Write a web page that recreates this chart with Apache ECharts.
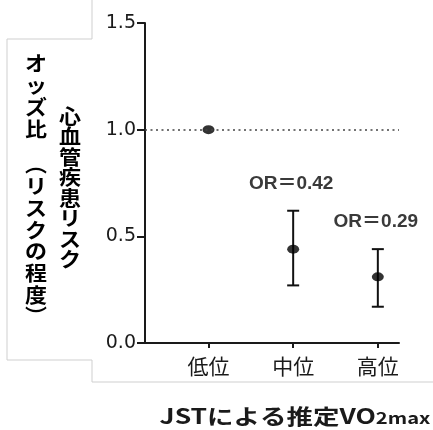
<!DOCTYPE html>
<html>
<head>
<meta charset="utf-8">
<script src="https://cdn.jsdelivr.net/npm/echarts@6/dist/echarts.min.js"></script>
<style>
html,body{margin:0;padding:0;background:#fff;}
#chart{width:433px;height:430px;}
</style>
</head>
<body>
<div id="chart"></div>
<script>
// ---- data ----
const categories = ['低位', '中位', '高位'];
const oddsRatio = [1.0, 0.44, 0.31];
const ciLower = [null, 0.27, 0.17];
const ciUpper = [null, 0.62, 0.44];
const orLabels = ['', 'OR＝0.42', 'OR＝0.29'];
const referenceLine = [1.0];
const yTicks = [0, 0.5, 1.0, 1.5];
const yTitleLine1a = 'オッズ比';
const yTitleLine1b = '︵リスクの程度︶';
const yTitleLine2 = '心血管疾患リスク';
const xTitleMain = 'JSTによる推定VO';
const xTitleSub = '2max';

// ---- build ----
const positions = categories.map((c, i) => i + 1);
const pointData = positions.map((p, i) => [p, oddsRatio[i]]);
const errData = [];
positions.forEach((p, i) => {
  if (ciLower[i] != null) errData.push([p, ciLower[i], ciUpper[i], i]);
});

const vertical = s => Array.from(s).join('\n');
const CJK = '"Noto Sans CJK JP", sans-serif';

const chart = echarts.init(document.getElementById('chart'), null, {renderer: 'canvas'});
chart.setOption({
  animation: false,
  backgroundColor: '#ffffff',
  grid: {left: 145, right: 34, top: 23, bottom: 87, containLabel: false},
  xAxis: {
    type: 'value',
    min: 0.25,
    max: 3.25,
    splitLine: {show: false},
    axisLine: {show: true, lineStyle: {color: '#1a1a1a', width: 2}},
    axisTick: {show: true, customValues: positions, length: 5, lineStyle: {color: '#1a1a1a', width: 2}},
    axisLabel: {
      customValues: positions,
      margin: 13,
      fontFamily: CJK,
      fontSize: 21,
      color: '#1a1a1a',
      formatter: v => categories[Math.round(v) - 1] || ''
    }
  },
  yAxis: {
    type: 'value',
    min: 0,
    max: 1.5,
    interval: 0.5,
    splitLine: {show: false},
    axisLine: {show: true, lineStyle: {color: '#1a1a1a', width: 2}},
    axisTick: {show: true, length: 8, lineStyle: {color: '#1a1a1a', width: 2}},
    axisLabel: {
      margin: 9,
      fontFamily: '"DejaVu Sans", sans-serif',
      fontSize: 19,
      color: '#1a1a1a',
      customValues: yTicks,
      formatter: v => v.toFixed(1)
    }
  },
  series: [
    {
      type: 'custom',
      data: errData,
      z: 2,
      renderItem: function (params, api) {
        const x = api.value(0);
        const lo = api.coord([x, api.value(1)]);
        const hi = api.coord([x, api.value(2)]);
        const idx = api.value(3);
        const cap = 6;
        const st = {stroke: '#111', lineWidth: 2};
        return {
          type: 'group',
          children: [
            {type: 'line', shape: {x1: lo[0], y1: lo[1], x2: hi[0], y2: hi[1]}, style: st},
            {type: 'line', shape: {x1: hi[0] - cap, y1: hi[1], x2: hi[0] + cap, y2: hi[1]}, style: st},
            {type: 'line', shape: {x1: lo[0] - cap, y1: lo[1], x2: lo[0] + cap, y2: lo[1]}, style: st},
            {type: 'text', x: hi[0] - 2, y: hi[1] - 27,
              style: {text: orLabels[idx], fill: '#3a3a3a', align: 'center', verticalAlign: 'middle',
                font: 'bold 19px "Liberation Sans", "Noto Sans CJK JP", sans-serif'}}
          ]
        };
      }
    },
    {
      type: 'scatter',
      data: pointData,
      symbol: 'circle',
      symbolSize: [12, 9],
      z: 3,
      itemStyle: {color: '#000'},
      markLine: {
        silent: true,
        symbol: 'none',
        label: {show: false},
        lineStyle: {color: '#444', type: [2, 3.5], width: 1.5},
        data: referenceLine.map(v => ({yAxis: v}))
      }
    }
  ],
  graphic: [
    {type: 'polyline', silent: true, shape: {points: [[92, 0], [92, 39], [7, 39], [7, 360], [92, 360], [92, 382], [433, 382]]},
      style: {stroke: '#cfcfcf', lineWidth: 1, fill: null}},
    {type: 'text', x: 36, y: 53, scaleX: 1.1,
      style: {text: vertical(yTitleLine1a), align: 'center', verticalAlign: 'top', lineHeight: 21.7,
        font: 'bold 20px ' + CJK, fill: '#000'}},
    {type: 'text', x: 36, y: 154, scaleX: 1.1,
      style: {text: vertical(yTitleLine1b), align: 'center', verticalAlign: 'top', lineHeight: 21.7,
        font: 'bold 20px ' + CJK, fill: '#000'}},
    {type: 'text', x: 70, y: 105.7, scaleX: 1.1,
      style: {text: vertical(yTitleLine2), align: 'center', verticalAlign: 'top', lineHeight: 20.5,
        font: 'bold 20px ' + CJK, fill: '#000'}},
    {type: 'text', x: 295, y: 414, scaleX: 1.26,
      style: {
        text: '{a|' + xTitleMain + '}{b|' + xTitleSub + '}',
        align: 'center', verticalAlign: 'middle',
        rich: {
          a: {fontFamily: CJK, fontWeight: 'bold', fontSize: 21, lineHeight: 26, verticalAlign: 'bottom', fill: '#1a1a1a', color: '#1a1a1a'},
          b: {fontFamily: CJK, fontWeight: 'bold', fontSize: 16, lineHeight: 26, verticalAlign: 'bottom', fill: '#1a1a1a', color: '#1a1a1a', padding: [0, 0, 1, 0]}
        }
      }}
  ]
});
</script>
</body>
</html>
